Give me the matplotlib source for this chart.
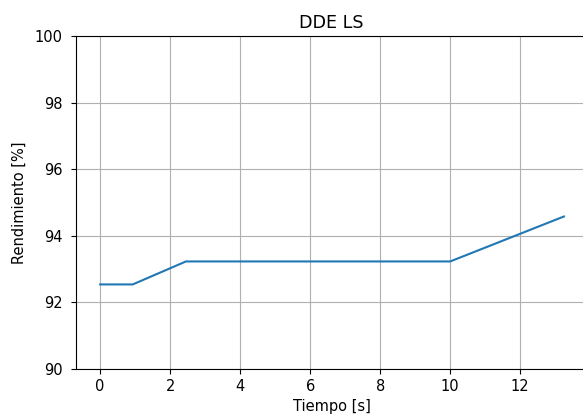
import numpy as np
import matplotlib
matplotlib.use('Agg')
import matplotlib.pyplot as plt

# tiempo [s] vs rendimiento [%]
tiempo = [0.0, 0.93, 2.45, 10.0, 13.25]
rendimiento = [92.54, 92.54, 93.23, 93.23, 94.58]

plt.rcParams['font.size'] = 10.5

fig = plt.figure(figsize=(5.83, 4.2), dpi=100)
ax = fig.add_axes([0.1304, 0.1214, 0.8765, 0.7929])
ax.plot(tiempo, rendimiento, color='#1f77b4')
ax.set_ylim(90, 100)
ax.set_xlim(-0.69, 13.91)
ax.set_title('DDE LS')
ax.set_xlabel('Tiempo [s]')
ax.set_ylabel('Rendimiento [%]', labelpad=6)
ax.tick_params(axis='y', pad=6)
ax.grid(True)

fig.savefig('out.png', dpi=100)
